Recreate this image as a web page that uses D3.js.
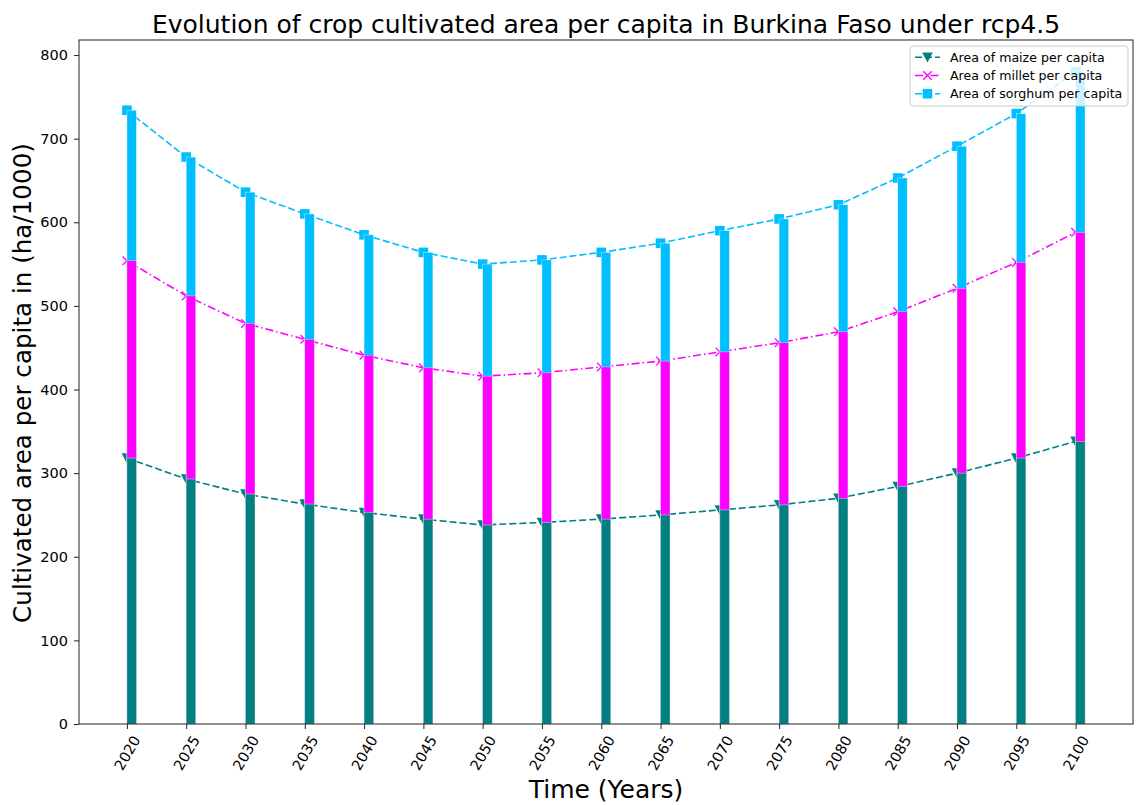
<!DOCTYPE html>
<html>
<head>
<meta charset="utf-8">
<script src="https://cdn.jsdelivr.net/npm/d3@7"></script>
<style>
  html, body { margin: 0; padding: 0; background: #fff; }
  svg { display: block; font-family: "DejaVu Sans", sans-serif; }
</style>
</head>
<body>
<svg id="chart" width="1136" height="805"></svg>
<script>
// Years on the x axis
const years = [2020, 2025, 2030, 2035, 2040, 2045, 2050, 2055, 2060, 2065, 2070, 2075, 2080, 2085, 2090, 2095, 2100];
// Cultivated area per capita (ha/1000), one value per year
const maize   = [318, 293, 275, 263, 253, 245, 238, 241, 245, 250, 256, 262, 270, 284, 300, 318, 338];
const millet  = [554, 512, 479, 460, 441, 426, 416, 420, 427, 434, 445, 456, 469, 493, 521, 552, 588];
const sorghum = [734, 678, 636, 610, 585, 564, 550, 555, 564, 575, 590, 604, 621, 653, 691, 730, 780];
const yTicks  = [0, 100, 200, 300, 400, 500, 600, 700, 800];

const seriesList = [
  { name: "Area of maize per capita",   values: maize,   color: "#008080", marker: "tri",    dash: "7,3" },
  { name: "Area of millet per capita",  values: millet,  color: "#ff00ff", marker: "x",      dash: "8,3,1.5,3" },
  { name: "Area of sorghum per capita", values: sorghum, color: "#00bfff", marker: "square", dash: "7,3" }
];

const svg = d3.select("#chart");
const margin = { left: 79, right: 1133, top: 40, bottom: 724 };
const barWidth = 0.8; // in years, bars start at the tick (edge aligned)

const x = d3.scaleLinear().domain([2015.96, 2104.84]).range([margin.left, margin.right]);
const y = d3.scaleLinear().domain([0, 818]).range([margin.bottom, margin.top]);

// lines with markers (drawn first, bars sit on top)
const lineGen = d3.line().x((d, i) => x(years[i])).y(d => y(d));

function drawMarker(g, type, cx, cy, color) {
  if (type === "square") {
    g.append("rect").attr("x", cx - 4.8).attr("y", cy - 4.8).attr("width", 9.6).attr("height", 9.6)
      .attr("fill", color);
  } else if (type === "tri") {
    g.append("path").attr("d", `M${cx - 5.3},${cy - 4.8} L${cx + 5.3},${cy - 4.8} L${cx},${cy + 5.3} Z`)
      .attr("fill", color);
  } else {
    g.append("path").attr("d", `M${cx - 4.3},${cy - 4.3} L${cx + 4.3},${cy + 4.3} M${cx - 4.3},${cy + 4.3} L${cx + 4.3},${cy - 4.3}`)
      .attr("stroke", color).attr("stroke-width", 1.3).attr("fill", "none");
  }
}

const linesG = svg.append("g");
seriesList.forEach(s => {
  linesG.append("path").datum(s.values)
    .attr("d", lineGen)
    .attr("fill", "none")
    .attr("stroke", s.color)
    .attr("stroke-width", 1.6)
    .attr("stroke-dasharray", s.dash);
  const mg = linesG.append("g");
  s.values.forEach((v, i) => drawMarker(mg, s.marker, x(years[i]), y(v), s.color));
});

// bars: sorghum behind, then millet, then maize in front
const barsG = svg.append("g");
[...seriesList].reverse().forEach(s => {
  barsG.selectAll(null).data(s.values).enter().append("rect")
    .attr("x", (d, i) => x(years[i]))
    .attr("y", d => y(d))
    .attr("width", (d, i) => x(years[i] + barWidth) - x(years[i]))
    .attr("height", d => y(0) - y(d))
    .attr("fill", s.color)
    .attr("stroke", "rgba(255,255,255,0.6)")
    .attr("stroke-width", 0.6);
});

// frame
svg.append("rect")
  .attr("x", margin.left).attr("y", margin.top)
  .attr("width", margin.right - margin.left).attr("height", margin.bottom - margin.top)
  .attr("fill", "none").attr("stroke", "#222").attr("stroke-width", 1);

// y axis
const yAxis = d3.axisLeft(y).tickValues(yTicks).tickSize(5).tickPadding(6);
const yg = svg.append("g").attr("transform", `translate(${margin.left},0)`).call(yAxis);
yg.select(".domain").remove();
yg.selectAll("text").attr("font-size", 14.5).attr("fill", "#000").attr("font-family", "DejaVu Sans, sans-serif");
yg.selectAll("line").attr("stroke", "#222");

// x axis
const xAxis = d3.axisBottom(x).tickValues(years).tickSize(5).tickFormat(d3.format("d"));
const xg = svg.append("g").attr("transform", `translate(0,${margin.bottom})`).call(xAxis);
xg.select(".domain").remove();
xg.selectAll("line").attr("stroke", "#222");
xg.selectAll("text")
  .attr("font-size", 14.5).attr("fill", "#000").attr("font-family", "DejaVu Sans, sans-serif")
  .attr("text-anchor", "middle").attr("dominant-baseline", "central")
  .attr("y", 0).attr("dy", null)
  .attr("transform", "translate(0,29) rotate(-60)");

// titles
svg.append("text").attr("x", (margin.left + margin.right) / 2).attr("y", 33)
  .attr("text-anchor", "middle").attr("font-size", 25).attr("fill", "#000")
  .text("Evolution of crop cultivated area per capita in Burkina Faso under rcp4.5");
svg.append("text").attr("x", (margin.left + margin.right) / 2).attr("y", 798)
  .attr("text-anchor", "middle").attr("font-size", 25).attr("fill", "#000")
  .text("Time (Years)");
svg.append("text").attr("transform", `translate(31,${(margin.top + margin.bottom) / 2 + 1}) rotate(-90)`)
  .attr("text-anchor", "middle").attr("font-size", 24.6).attr("fill", "#000")
  .text("Cultivated area per capita in (ha/1000)");

// legend
const lg = svg.append("g").attr("transform", "translate(910,46)");
lg.append("rect").attr("width", 218).attr("height", 60).attr("rx", 3)
  .attr("fill", "rgba(255,255,255,0.8)").attr("stroke", "#ccc").attr("stroke-width", 1);
seriesList.forEach((s, i) => {
  const cy = 11.3 + i * 18.2;
  lg.append("line").attr("x1", 5).attr("x2", 30).attr("y1", cy).attr("y2", cy)
    .attr("stroke", s.color).attr("stroke-width", 1.6).attr("stroke-dasharray", s.dash);
  drawMarker(lg, s.marker, 17.5, cy, s.color);
  lg.append("text").attr("x", 40).attr("y", cy).attr("dominant-baseline", "central")
    .attr("font-size", 12.6).attr("fill", "#000").text(s.name);
});
</script>
</body>
</html>
